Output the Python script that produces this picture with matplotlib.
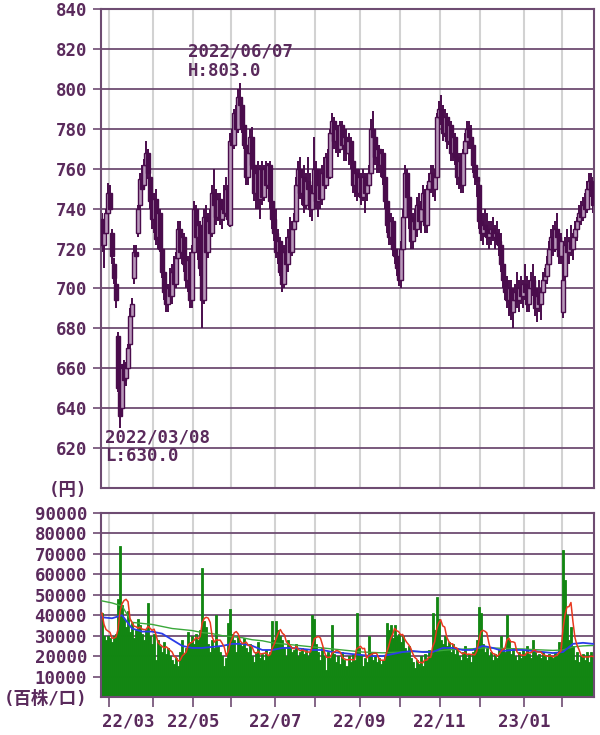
import matplotlib
matplotlib.use('Agg')
import matplotlib.pyplot as plt
import matplotlib.transforms as mtransforms
import numpy as np
import pandas as pd

# Jours de bourse par mois affichés (2022/02 .. 2023/02)
month_labels = ['22/02', '22/03', '22/04', '22/05', '22/06', '22/07', '22/08',
                '22/09', '22/10', '22/11', '22/12', '23/01', '23/02']
month_days = [4, 22, 20, 19, 22, 20, 22, 20, 20, 20, 22, 19, 16]

opens = [735, 722, 728, 738, 748, 728, 712, 702, 676, 648,
         640, 662, 655, 660, 672, 686, 705, 718, 728, 742,
         755, 752, 762, 768, 756, 744, 735, 745, 726, 738,
         720, 708, 698, 692, 700, 696, 708, 702, 715, 730,
         718, 726, 712, 704, 714, 694, 718, 740, 726, 732,
         710, 694, 736, 718, 734, 728, 748, 742, 736, 745,
         735, 740, 738, 750, 732, 774, 772, 788, 780, 796,
         792, 782, 772, 756, 768, 776, 762, 748, 758, 745,
         760, 746, 760, 752, 762, 744, 735, 728, 718, 724,
         708, 702, 718, 712, 726, 718, 730, 734, 752, 760,
         748, 756, 742, 754, 750, 740, 748, 760, 744, 752,
         745, 758, 752, 766, 756, 778, 784, 774, 780, 770,
         782, 772, 776, 768, 774, 764, 752, 758, 748, 756,
         746, 756, 748, 752, 758, 780, 776, 766, 770, 762,
         768, 756, 744, 732, 726, 734, 720, 716, 710, 704,
         720, 736, 758, 746, 736, 724, 734, 730, 742, 734,
         740, 748, 732, 750, 754, 758, 750, 756, 786, 790,
         785, 778, 786, 774, 782, 768, 776, 766, 756, 764,
         752, 768, 774, 780, 776, 772, 762, 756, 752, 734,
         728, 732, 730, 726, 728, 730, 726, 728, 724, 722,
         712, 704, 698, 694, 700, 688, 694, 698, 694, 700,
         696, 702, 698, 692, 700, 704, 700, 690, 696, 692,
         698, 704, 706, 712, 720, 726, 720, 730, 726, 716,
         688, 706, 722, 718, 724, 720, 726, 730, 734, 738,
         736, 742, 740, 750, 754, 750]

highs = [738, 730, 740, 753, 752, 730, 715, 706, 678, 652,
         662, 664, 663, 672, 690, 695, 722, 722, 742, 758,
         762, 765, 774, 770, 758, 752, 748, 750, 742, 740,
         724, 712, 706, 702, 710, 712, 716, 718, 734, 734,
         730, 728, 722, 716, 718, 722, 744, 742, 736, 734,
         712, 740, 742, 738, 740, 752, 760, 750, 748, 748,
         744, 752, 756, 752, 778, 780, 790, 792, 800, 803,
         796, 788, 782, 770, 780, 781, 768, 762, 764, 762,
         764, 762, 764, 763, 764, 748, 742, 740, 730, 726,
         712, 722, 726, 730, 736, 734, 738, 756, 764, 766,
         760, 762, 758, 766, 758, 752, 776, 764, 756, 760,
         762, 766, 768, 770, 780, 788, 786, 784, 782, 784,
         784, 780, 780, 778, 776, 770, 762, 760, 760, 758,
         760, 758, 758, 762, 785, 789, 780, 772, 772, 770,
         770, 760, 748, 740, 738, 736, 728, 720, 714, 724,
         740, 762, 760, 750, 742, 738, 740, 746, 748, 744,
         752, 750, 752, 758, 762, 762, 760, 788, 794, 797,
         792, 790, 788, 786, 784, 780, 778, 770, 768, 768,
         770, 778, 784, 784, 782, 776, 770, 760, 754, 748,
         738, 740, 738, 734, 734, 736, 732, 734, 730, 728,
         718, 712, 706, 704, 704, 698, 702, 708, 704, 706,
         704, 712, 706, 704, 708, 712, 706, 700, 704, 700,
         708, 710, 716, 724, 730, 732, 734, 738, 730, 728,
         722, 726, 730, 726, 732, 728, 734, 736, 742, 744,
         746, 748, 754, 758, 758, 756]

lows = [718, 710, 725, 736, 738, 712, 702, 690, 648, 630,
        636, 650, 651, 657, 668, 682, 702, 712, 726, 740,
        745, 750, 758, 755, 740, 730, 728, 722, 720, 718,
        705, 694, 688, 688, 694, 692, 700, 700, 712, 715,
        712, 708, 700, 698, 690, 690, 716, 722, 714, 706,
        680, 692, 712, 715, 722, 726, 738, 732, 734, 732,
        730, 734, 736, 732, 731, 768, 770, 776, 778, 788,
        778, 770, 752, 752, 764, 760, 744, 740, 740, 735,
        742, 744, 748, 750, 740, 730, 724, 715, 712, 706,
        698, 700, 706, 708, 714, 716, 722, 732, 744, 745,
        742, 738, 740, 746, 736, 734, 746, 740, 736, 740,
        742, 748, 750, 752, 755, 772, 770, 768, 766, 768,
        770, 764, 764, 762, 760, 748, 746, 744, 746, 742,
        744, 738, 744, 748, 756, 772, 762, 758, 758, 756,
        752, 740, 728, 722, 722, 716, 712, 706, 701, 700,
        718, 734, 742, 730, 720, 720, 726, 726, 730, 728,
        736, 728, 728, 744, 748, 746, 744, 754, 778, 782,
        774, 776, 770, 772, 764, 764, 762, 752, 750, 748,
        748, 764, 768, 770, 770, 758, 752, 746, 730, 724,
        722, 726, 722, 720, 722, 724, 720, 722, 716, 708,
        700, 694, 690, 686, 684, 680, 688, 690, 688, 692,
        690, 694, 688, 688, 694, 696, 686, 683, 688, 684,
        694, 698, 702, 708, 714, 716, 718, 722, 712, 712,
        685, 704, 714, 712, 716, 714, 720, 724, 730, 732,
        734, 736, 738, 744, 746, 738]

closes = [722, 728, 738, 748, 740, 716, 705, 694, 650, 636,
          660, 654, 660, 670, 686, 692, 718, 716, 740, 755,
          750, 762, 768, 758, 744, 735, 745, 725, 738, 720,
          708, 698, 692, 700, 696, 708, 702, 715, 730, 718,
          726, 712, 704, 714, 694, 718, 740, 726, 732, 710,
          694, 736, 718, 734, 728, 748, 742, 736, 745, 735,
          740, 738, 750, 735, 774, 772, 788, 780, 796, 792,
          782, 772, 756, 768, 776, 762, 748, 758, 745, 760,
          746, 760, 752, 762, 744, 735, 728, 718, 724, 708,
          702, 718, 712, 726, 718, 730, 734, 752, 760, 748,
          756, 742, 754, 750, 740, 748, 760, 744, 752, 745,
          758, 752, 766, 756, 778, 784, 774, 780, 770, 782,
          772, 776, 768, 774, 764, 752, 758, 748, 756, 746,
          756, 748, 752, 758, 780, 776, 766, 770, 762, 768,
          756, 744, 732, 726, 734, 720, 716, 710, 704, 720,
          736, 758, 746, 736, 724, 734, 730, 742, 734, 740,
          748, 732, 750, 754, 758, 750, 756, 786, 790, 785,
          778, 786, 774, 782, 768, 776, 766, 756, 764, 752,
          768, 774, 780, 776, 772, 762, 756, 754, 734, 728,
          732, 730, 726, 728, 730, 726, 728, 724, 722, 712,
          704, 698, 694, 700, 688, 694, 698, 694, 700, 696,
          702, 698, 692, 700, 704, 700, 690, 696, 692, 698,
          704, 706, 712, 720, 726, 720, 730, 726, 716, 724,
          704, 722, 718, 724, 720, 726, 730, 734, 738, 736,
          742, 740, 750, 754, 750, 742]

# Volume (百株)
volume = [41000, 30000, 28000, 30000, 29000, 27000, 30000, 31000, 48000, 74000,
          45000, 38000, 34000, 42000, 32000, 36000, 29000, 33000, 38000, 35000,
          31000, 28000, 33000, 46000, 30000, 26000, 31000, 18000, 28000, 25000,
          22000, 27000, 21000, 24000, 20000, 18000, 16000, 19000, 15000, 22000,
          28000, 21000, 24000, 32000, 27000, 30000, 26000, 31000, 28000, 33000,
          63000, 37000, 34000, 26000, 22000, 28000, 24000, 40000, 25000, 22000,
          20000, 15000, 19000, 36000, 43000, 31000, 28000, 22000, 30000, 26000,
          25000, 29000, 24000, 22000, 26000, 20000, 17000, 22000, 27000, 19000,
          21000, 18000, 23000, 20000, 22000, 37000, 28000, 37000, 33000, 30000,
          28000, 24000, 20000, 28000, 25000, 22000, 23000, 26000, 20000, 22000,
          24000, 21000, 23000, 20000, 22000, 40000, 38000, 26000, 22000, 18000,
          24000, 20000, 13000, 22000, 19000, 35000, 21000, 17000, 20000, 16000,
          22000, 18000, 15000, 20000, 17000, 21000, 18000, 41000, 24000, 20000,
          15000, 19000, 17000, 30000, 22000, 18000, 20000, 17000, 19000, 16000,
          18000, 20000, 36000, 33000, 35000, 29000, 35000, 30000, 31000, 27000,
          30000, 24000, 22000, 25000, 19000, 17000, 14000, 18000, 16000, 20000,
          15000, 21000, 18000, 23000, 20000, 41000, 33000, 49000, 38000, 28000,
          26000, 30000, 25000, 27000, 22000, 26000, 21000, 24000, 20000, 18000,
          22000, 25000, 19000, 21000, 17000, 22000, 24000, 28000, 44000, 41000,
          26000, 22000, 24000, 20000, 22000, 18000, 21000, 19000, 23000, 30000,
          24000, 22000, 40000, 28000, 21000, 24000, 20000, 18000, 22000, 19000,
          23000, 20000, 25000, 21000, 19000, 28000, 22000, 20000, 21000, 19000,
          22000, 20000, 18000, 21000, 20000, 19000, 22000, 20000, 27000, 24000,
          72000, 57000, 40000, 28000, 34000, 25000, 18000, 22000, 17000, 20000,
          21000, 18000, 22000, 17000, 22000, 20000]

# Moyennes mobiles (un point tous les 5 jours)
ma_mid = [39000, 38500, 40000, 33500, 32000, 32000, 31000, 28000, 25000, 24000,
          24000, 24500, 25000, 26000, 26000, 25000, 23000, 23000, 24000, 24000,
          23500, 23000, 23000, 22000, 21500, 21000, 20500, 20000, 20000, 21000,
          22000, 22500, 22000, 22000, 24000, 24000, 23000, 23000, 25000, 24000,
          22500, 23000, 23000, 22500, 22000, 21500, 22000, 26000, 26500, 26000]
ma_long = [47000, 46000, 44500, 36500, 36000, 35500, 34500, 33500, 33000, 32500,
           31500, 31000, 30000, 29500, 29000, 28000, 27500, 26500, 26000, 25500,
           25000, 24500, 24000, 23500, 23000, 22500, 22000, 21800, 21600, 21800,
           22000, 22200, 22200, 22300, 22800, 23200, 23400, 23600, 24000, 24000,
           23800, 23600, 23500, 23200, 23000, 22800, 23000, 24500, 25000, 25200]

hi_date = '2022/06/07'
lo_date = '2022/03/08'

# --- style ---
plt.rcParams['font.family'] = ['DejaVu Sans Mono', 'Noto Sans CJK JP']
plt.rcParams['font.weight'] = 'bold'
txt_c = '#5a2a5c'
grid_c = '#6e4c72'
vgrid_c = '#d2d2d2'
dark = '#4a0c4c'
light = '#b898ba'
vol_c = '#128612'

n = len(closes)
x = np.arange(n)
o = np.array(opens)
c = np.array(closes)
h = np.array(highs)
l = np.array(lows)
starts = np.cumsum([0] + month_days[:-1])
bounds = starts[1:] - 0.5

fig = plt.figure(figsize=(6, 7.35), dpi=100)
ax1 = fig.add_axes([101/600, 1-488/735, 493/600, 479/735])
ax2 = fig.add_axes([101/600, 1-697/735, 493/600, 184/735])

for ax in (ax1, ax2):
    ax.set_axisbelow(True)
    ax.set_xlim(-0.5, n - 0.5)
    ax.set_xticks(bounds)
    ax.grid(axis='x', color=vgrid_c, lw=1.5)
    ax.grid(axis='y', color=grid_c, lw=1.3)
    for s in ax.spines.values():
        s.set_color(grid_c)
        s.set_linewidth(1.5)
    ax.tick_params(axis='y', length=6, width=1.2, color=grid_c,
                   labelsize=12.5, labelcolor=txt_c, pad=4)

# chandeliers
up = c >= o
body_bot = np.minimum(o, c)
body_h = np.maximum(np.abs(c - o), 1.0)
ax1.vlines(x, l, h, color=dark, lw=1.4, zorder=2)
ax1.bar(x, body_h, bottom=body_bot, width=2.0,
        color=np.where(up, light, dark), edgecolor=dark, linewidth=1.0, zorder=3)
ax1.set_ylim(600, 840)
ax1.set_yticks(np.arange(600, 841, 20))
ax1.set_yticklabels(['(円)'] + [str(v) for v in range(620, 841, 20)])
ax1.yaxis.get_major_ticks()[0].tick1line.set_visible(False)
ax1.tick_params(axis='x', length=0, labelbottom=False)

i_hi = int(np.argmax(h))
i_lo = int(np.argmin(l))
ax1.annotate(f'{hi_date}\nH:{h[i_hi]:.1f}', xy=(i_hi, h[i_hi]), xytext=(-52, 40),
             textcoords='offset pixels', ha='left', va='top', fontsize=12.5,
             color=txt_c, linespacing=1.05)
ax1.annotate(f'{lo_date}\nL:{l[i_lo]:.1f}', xy=(i_lo, l[i_lo]), xytext=(-15, 0),
             textcoords='offset pixels', ha='left', va='top', fontsize=12.5,
             color=txt_c, linespacing=1.05)

# volume
vol = pd.Series(volume)
ma_short = vol.rolling(5, min_periods=1).mean()
ma_x = np.arange(0, n, 5)
ax2.bar(x, volume, width=1.0, color=vol_c, edgecolor=vol_c, linewidth=0.6, zorder=2)
ax2.plot(ma_x, ma_long, color='#3aa83a', lw=1.0, zorder=3)
ax2.plot(ma_x, ma_mid, color='#2a3ce8', lw=1.3, zorder=4)
ax2.plot(x, ma_short, color='#e8381e', lw=1.1, zorder=5)
ax2.set_ylim(0, 90000)
ax2.set_yticks(np.arange(0, 90001, 10000))
ax2.set_yticklabels(['(百株/口)'] + [str(v) for v in range(10000, 90001, 10000)])
ax2.yaxis.get_major_ticks()[0].tick1line.set_visible(False)

xl = [month_labels[k + 1] if k % 2 == 0 else '' for k in range(len(bounds))]
ax2.set_xticklabels(xl)
ax2.tick_params(axis='x', length=7, width=1.2, color=grid_c, labelsize=12.5,
                labelcolor=txt_c, pad=4)
first = ax2.get_xticklabels()[0]
first.set_ha('left')
first.set_transform(first.get_transform() +
                    mtransforms.ScaledTranslation(-0.07, 0, fig.dpi_scale_trans))

fig.savefig('out.png', dpi=100)
